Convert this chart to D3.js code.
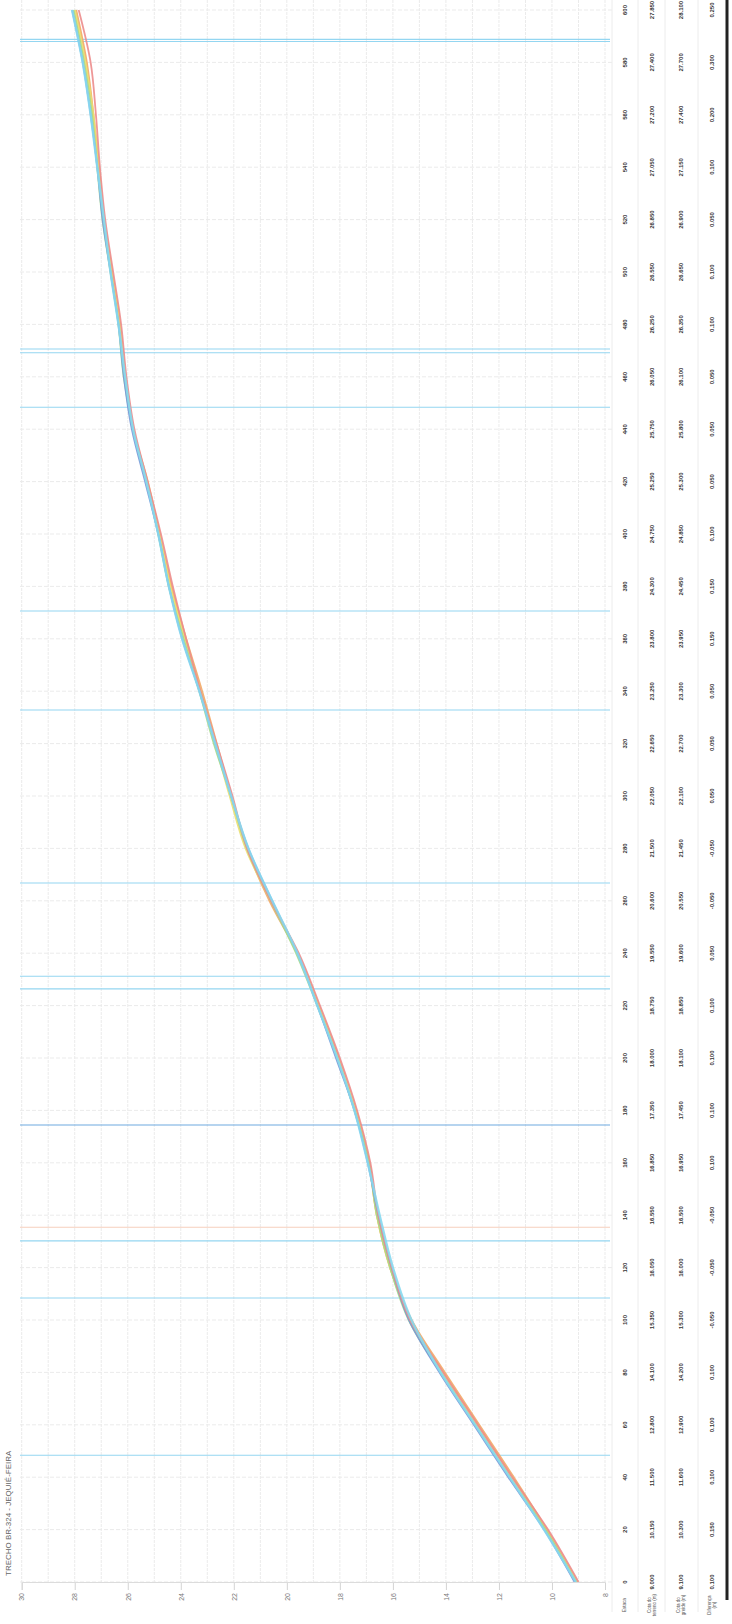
<!DOCTYPE html>
<meta charset="utf-8">
<style>
  body { margin: 0; background: #fff; }
  svg { display: block; font-family: "Liberation Sans", Arial, sans-serif; }
</style>
<svg width="732" height="1624"></svg>
<script src="https://cdn.jsdelivr.net/npm/d3@7"></script>
<script>
// profile data, one value per station (bottom of page = station 0)
var stations = d3.range(0, 31);
var stationLabels = stations.map(function(s) { return String(s * 20); });
var elevTicks = [30, 28, 26, 24, 22, 20, 18, 16, 14, 12, 10, 8];

var terreno = [9.0,10.15,11.5,12.8,14.1,15.35,16.05,16.55,16.85,17.35,18.0,18.75,19.55,20.6,21.5,22.05,22.65,23.25,23.8,24.3,24.75,25.25,25.75,26.05,26.25,26.55,26.85,27.05,27.2,27.4,27.85];
var levant1 = [9.05,10.2,11.45,12.75,14.05,15.3,16.1,16.6,16.9,17.4,18.05,18.8,19.6,20.65,21.5,22.1,22.65,23.2,23.8,24.35,24.8,25.25,25.8,26.1,26.3,26.6,26.9,27.1,27.3,27.55,27.95];
var levant2 = [9.05,10.25,11.55,12.85,14.15,15.35,16.1,16.6,16.9,17.4,18.1,18.8,19.6,20.6,21.55,22.15,22.7,23.25,23.85,24.4,24.8,25.3,25.8,26.1,26.3,26.6,26.9,27.1,27.3,27.6,28.0];
var levant3 = [9.1,10.25,11.6,12.9,14.2,15.4,16.1,16.6,16.9,17.45,18.1,18.85,19.65,20.6,21.5,22.1,22.75,23.3,23.9,24.45,24.85,25.3,25.8,26.15,26.35,26.65,26.95,27.15,27.35,27.65,28.05];
var levant4 = [9.15,10.3,11.65,12.95,14.25,15.4,16.05,16.55,16.95,17.45,18.15,18.85,19.6,20.55,21.45,22.1,22.7,23.3,23.95,24.45,24.85,25.35,25.85,26.15,26.35,26.65,26.95,27.15,27.4,27.7,28.1];
var greide = [9.1,10.3,11.6,12.9,14.2,15.3,16.0,16.5,16.95,17.45,18.1,18.85,19.6,20.55,21.45,22.1,22.7,23.3,23.95,24.45,24.85,25.3,25.8,26.1,26.35,26.65,26.9,27.15,27.4,27.7,28.1];

// marked cross sections (station positions)
var marcas = [29.44, 29.40, 23.53, 23.46, 22.42, 18.53, 16.64, 13.34, 11.56, 11.32, 8.72, 6.51, 5.42, 2.42];
var marcaLaranja = [6.77];

var series = [
  {nome: "levant1", valores: levant1, cor: "#f3a866", w: 2.2},
  {nome: "levant2", valores: levant2, cor: "#e9df72", w: 2.2},
  {nome: "levant3", valores: levant3, cor: "#a6d98a", w: 2},
  {nome: "levant4", valores: levant4, cor: "#7796d8", w: 1.6},
  {nome: "terreno", valores: terreno, cor: "#ec8c8c", w: 1.8},
  {nome: "greide", valores: greide, cor: "#86d8ef", w: 2.4}
];

var svg = d3.select("svg"),
    W = +svg.attr("width"),
    H = +svg.attr("height");

// whole drawing is rotated: u runs bottom->top of page, v runs left->right
var g = svg.append("g")
    .attr("transform", "translate(0," + H + ") rotate(-90)");

var x = d3.scaleLinear().domain([0, 30]).range([42, 1614]);
var y = d3.scaleLinear().domain([30, 8]).range([21.7, 605]);

// grid
g.append("g").selectAll("line")
    .data(d3.range(8, 31))
    .enter().append("line")
    .attr("x1", 41).attr("x2", H)
    .attr("y1", function(d) { return y(d); })
    .attr("y2", function(d) { return y(d); })
    .attr("stroke", "#ebebeb")
    .attr("stroke-dasharray", "3,1")
    .attr("stroke-width", 1);

g.append("g").selectAll("line")
    .data(stations)
    .enter().append("line")
    .attr("x1", function(d) { return x(d); })
    .attr("x2", function(d) { return x(d); })
    .attr("y1", 20).attr("y2", 612)
    .attr("stroke", "#ebebeb")
    .attr("stroke-dasharray", "4,2")
    .attr("stroke-width", 1);

// table column separators
g.append("g").selectAll("line")
    .data([612, 638, 665, 698])
    .enter().append("line")
    .attr("x1", 12).attr("x2", H)
    .attr("y1", function(d) { return d; })
    .attr("y2", function(d) { return d; })
    .attr("stroke", "#ececec")
    .attr("stroke-width", 1);

// marker lines
g.append("g").selectAll("line")
    .data(marcas)
    .enter().append("line")
    .attr("x1", function(d) { return x(d); })
    .attr("x2", function(d) { return x(d); })
    .attr("y1", 20).attr("y2", 610)
    .attr("stroke", function(d, i) { return i === 10 ? "#6fa9e0" : "#94d6f1"; })
    .attr("stroke-width", 1.1);

g.append("g").selectAll("line")
    .data(marcaLaranja)
    .enter().append("line")
    .attr("x1", function(d) { return x(d); })
    .attr("x2", function(d) { return x(d); })
    .attr("y1", 20).attr("y2", 610)
    .attr("stroke", "#f6cfbd")
    .attr("stroke-width", 1);

// profile lines
var line = d3.line()
    .x(function(d, i) { return x(stations[i]); })
    .y(function(d) { return y(d); })
    .curve(d3.curveMonotoneX);

g.append("g").selectAll("path")
    .data(series)
    .enter().append("path")
    .attr("d", function(d) { return line(d.valores); })
    .attr("fill", "none")
    .attr("stroke", function(d) { return d.cor; })
    .attr("stroke-width", function(d) { return d.w; })
    .attr("stroke-opacity", 0.9);

// elevation axis
var axis = g.append("g")
    .attr("transform", "translate(41,0)")
    .call(d3.axisLeft(y).tickValues(elevTicks).tickSize(7).tickPadding(3).tickFormat(d3.format("d")));
axis.select(".domain").attr("stroke", "#dcdcdc");
axis.selectAll(".tick line").attr("stroke", "#d4d4d4");
axis.selectAll("text").attr("fill", "#777").style("font-size", "7px");

// title
g.append("text")
    .attr("x", 48).attr("y", 9)
    .attr("dominant-baseline", "middle")
    .attr("fill", "#666")
    .style("font-size", "8px")
    .text("TRECHO BR-324 - JEQUIÉ-FEIRA");

// table under the profile
var colunas = [
  {v: 625, texto: function(i) { return stationLabels[i]; }},
  {v: 652, texto: function(i) { return terreno[i].toFixed(3); }},
  {v: 681, texto: function(i) { return greide[i].toFixed(3); }},
  {v: 712, texto: function(i) { return (greide[i] - terreno[i]).toFixed(3); }}
];

colunas.forEach(function(c) {
  g.append("g").selectAll("text")
      .data(stations)
      .enter().append("text")
      .attr("x", function(d) { return x(d); })
      .attr("y", c.v)
      .attr("text-anchor", "middle")
      .attr("dominant-baseline", "middle")
      .attr("fill", "#333")
      .style("font-size", "6px")
      .style("font-weight", "bold")
      .text(function(d, i) { return c.texto(i); });
});

var cabecalho = [
  {v: 625, linhas: ["Estaca"]},
  {v: 652, linhas: ["Cota do", "terreno (m)"]},
  {v: 681, linhas: ["Cota do", "greide (m)"]},
  {v: 712, linhas: ["Diferença", "(m)"]}
];
cabecalho.forEach(function(c) {
  var t = g.append("text")
      .attr("x", 19)
      .attr("y", c.v - (c.linhas.length - 1) * 2.5)
      .attr("text-anchor", "middle")
      .attr("dominant-baseline", "middle")
      .attr("fill", "#555")
      .style("font-size", "4.5px");
  c.linhas.forEach(function(l, k) {
    t.append("tspan").attr("x", 19).attr("dy", k === 0 ? 0 : 5).text(l);
  });
});

// right border
g.append("line")
    .attr("x1", 24).attr("x2", H)
    .attr("y1", 727).attr("y2", 727)
    .attr("stroke", "#222")
    .attr("stroke-width", 3);
</script>
